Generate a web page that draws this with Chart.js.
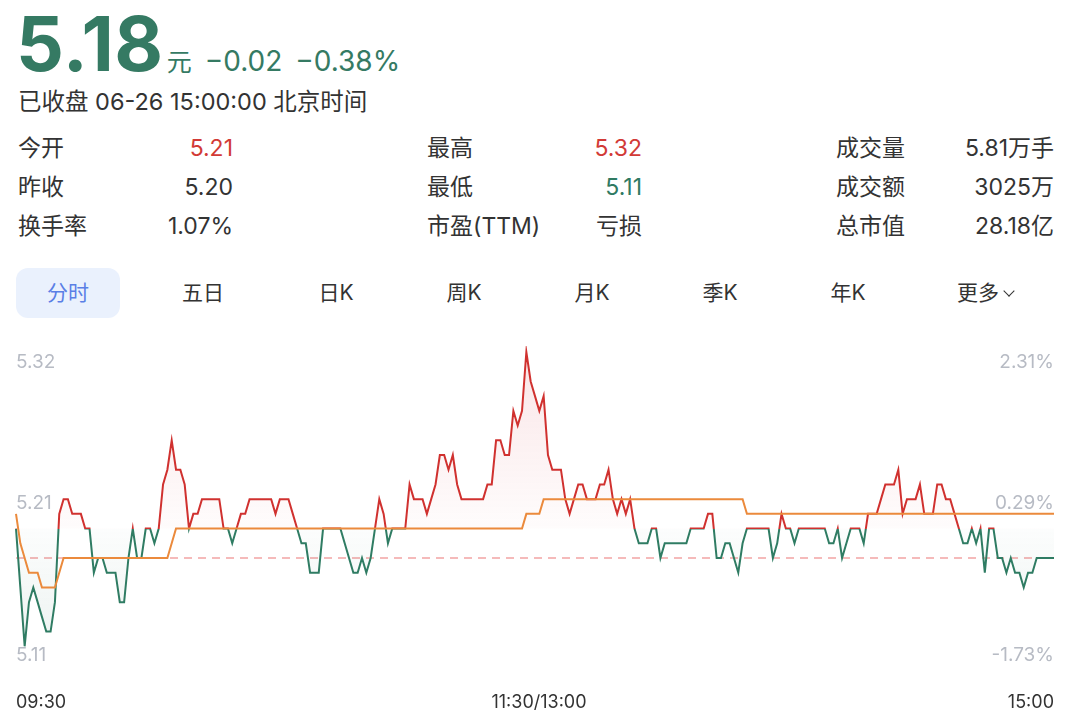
<!DOCTYPE html>
<html lang="zh-CN">
<head>
<meta charset="UTF-8">
<title>分时</title>
<script src="https://cdn.jsdelivr.net/npm/chart.js@4.4.1/dist/chart.umd.min.js"></script>
<style>
  * { margin: 0; padding: 0; box-sizing: border-box; }
  body {
    width: 1080px; height: 728px; overflow: hidden; background: #fff;
    font-family: "Inter", "Noto Sans CJK SC", sans-serif; color: #333;
    position: relative;
  }
  .abs { position: absolute; white-space: nowrap; }
  .up { color: #d23a36; }
  .down { color: #2f7a62; }
  #priceRow { left: 16px; top: 2px; display: flex; align-items: baseline; color: #357a63; }
  #priceRow .big { font-size: 75px; font-weight: 700; line-height: 84px; letter-spacing: 0.5px; }
  #priceRow .unit { font-size: 25px; margin-left: 3px; }
  #priceRow .chg { font-size: 28px; margin-left: 13px; }
  #status { left: 18px; top: 87px; font-size: 23.5px; line-height: 30px; color: #333; }
  .row { font-size: 23px; line-height: 28px; }
  .lbl { position: absolute; }
  .val { position: absolute; text-align: right; }
  #tabs .tab { position: absolute; top: 279px; font-size: 21px; line-height: 28px; transform: translateX(-50%); }
  #tabActive { left: 16px; top: 268px; width: 104px; height: 50px; border-radius: 12px; background: #eaf1fd; }
  .chev { display: inline-block; width: 8px; height: 8px; border-right: 1.5px solid #333; border-bottom: 1.5px solid #333; transform: rotate(45deg); margin-left: 6px; position: relative; top: -5px; }
  #chartBox { position: absolute; left: 0; top: 330px; width: 1080px; height: 398px; }
</style>
</head>
<body>
<div id="priceRow" class="abs">
  <span class="big">5.18</span><span class="unit">元</span><span class="chg">−0.02</span><span class="chg">−0.38%</span>
</div>
<div id="status" class="abs">已收盘 06-26 15:00:00 北京时间</div>
<div id="info"></div>
<div id="tabActive" class="abs"></div>
<div id="tabs"></div>
<div id="chartBox"><canvas id="minuteChart"></canvas></div>

<script>
// 昨收价（红绿分界）和收盘价（虚线）
const prevClose = 5.20;
const lastPrice = 5.18;

// 纵轴刻度
const yMin = 5.11;
const yMax = 5.32;
const priceTicks = ['5.32', '5.21', '5.11'];
const pctTicks = ['2.31%', '0.29%', '-1.73%'];
const timeTicks = ['09:30', '11:30/13:00', '15:00'];

// 每分钟价格（09:30 - 15:00，共 241 个点）
const prices = [
  5.20, 5.16, 5.12, 5.15, 5.16, 5.15, 5.14, 5.13, 5.13, 5.15,
  5.21, 5.22, 5.22, 5.21, 5.21, 5.21, 5.20, 5.20, 5.17, 5.18,
  5.18, 5.17, 5.17, 5.17, 5.15, 5.15, 5.18, 5.20, 5.18, 5.18,
  5.20, 5.20, 5.19, 5.20, 5.23, 5.24, 5.26, 5.24, 5.24, 5.23,
  5.20, 5.21, 5.21, 5.22, 5.22, 5.22, 5.22, 5.22, 5.20, 5.20,
  5.19, 5.20, 5.21, 5.21, 5.22, 5.22, 5.22, 5.22, 5.22, 5.22,
  5.21, 5.22, 5.22, 5.22, 5.21, 5.20, 5.19, 5.19, 5.17, 5.17,
  5.17, 5.20, 5.20, 5.20, 5.20, 5.20, 5.19, 5.18, 5.17, 5.17,
  5.18, 5.17, 5.18, 5.20, 5.22, 5.21, 5.19, 5.20, 5.20, 5.20,
  5.20, 5.23, 5.22, 5.22, 5.22, 5.21, 5.22, 5.23, 5.25, 5.25,
  5.24, 5.25, 5.23, 5.22, 5.22, 5.22, 5.22, 5.22, 5.22, 5.23,
  5.23, 5.26, 5.26, 5.25, 5.25, 5.28, 5.27, 5.28, 5.32, 5.30,
  5.29, 5.28, 5.29, 5.25, 5.24, 5.24, 5.24, 5.22, 5.21, 5.22,
  5.23, 5.23, 5.22, 5.22, 5.22, 5.23, 5.23, 5.24, 5.22, 5.21,
  5.22, 5.21, 5.22, 5.20, 5.19, 5.19, 5.19, 5.20, 5.20, 5.18,
  5.19, 5.19, 5.19, 5.19, 5.19, 5.19, 5.20, 5.20, 5.20, 5.20,
  5.21, 5.21, 5.18, 5.18, 5.19, 5.19, 5.18, 5.17, 5.19, 5.20,
  5.20, 5.20, 5.20, 5.20, 5.20, 5.18, 5.19, 5.21, 5.20, 5.20,
  5.19, 5.20, 5.20, 5.20, 5.20, 5.20, 5.20, 5.20, 5.19, 5.19,
  5.20, 5.18, 5.19, 5.20, 5.20, 5.20, 5.19, 5.21, 5.21, 5.21,
  5.22, 5.23, 5.23, 5.23, 5.24, 5.21, 5.22, 5.22, 5.22, 5.23,
  5.21, 5.21, 5.21, 5.23, 5.23, 5.22, 5.22, 5.21, 5.20, 5.19,
  5.19, 5.20, 5.19, 5.20, 5.17, 5.20, 5.20, 5.18, 5.18, 5.17,
  5.18, 5.17, 5.17, 5.16, 5.17, 5.17, 5.18, 5.18, 5.18, 5.18,
  5.18
];

// 均价线
const avgPrices = [
  5.21, 5.19, 5.18, 5.17, 5.17, 5.17, 5.16, 5.16, 5.16, 5.16,
  5.17, 5.18, 5.18, 5.18, 5.18, 5.18, 5.18, 5.18, 5.18, 5.18,
  5.18, 5.18, 5.18, 5.18, 5.18, 5.18, 5.18, 5.18, 5.18, 5.18,
  5.18, 5.18, 5.18, 5.18, 5.18, 5.18, 5.19, 5.20, 5.20, 5.20,
  5.20, 5.20, 5.20, 5.20, 5.20, 5.20, 5.20, 5.20, 5.20, 5.20,
  5.20, 5.20, 5.20, 5.20, 5.20, 5.20, 5.20, 5.20, 5.20, 5.20,
  5.20, 5.20, 5.20, 5.20, 5.20, 5.20, 5.20, 5.20, 5.20, 5.20,
  5.20, 5.20, 5.20, 5.20, 5.20, 5.20, 5.20, 5.20, 5.20, 5.20,
  5.20, 5.20, 5.20, 5.20, 5.20, 5.20, 5.20, 5.20, 5.20, 5.20,
  5.20, 5.20, 5.20, 5.20, 5.20, 5.20, 5.20, 5.20, 5.20, 5.20,
  5.20, 5.20, 5.20, 5.20, 5.20, 5.20, 5.20, 5.20, 5.20, 5.20,
  5.20, 5.20, 5.20, 5.20, 5.20, 5.20, 5.20, 5.20, 5.21, 5.21,
  5.21, 5.21, 5.22, 5.22, 5.22, 5.22, 5.22, 5.22, 5.22, 5.22,
  5.22, 5.22, 5.22, 5.22, 5.22, 5.22, 5.22, 5.22, 5.22, 5.22,
  5.22, 5.22, 5.22, 5.22, 5.22, 5.22, 5.22, 5.22, 5.22, 5.22,
  5.22, 5.22, 5.22, 5.22, 5.22, 5.22, 5.22, 5.22, 5.22, 5.22,
  5.22, 5.22, 5.22, 5.22, 5.22, 5.22, 5.22, 5.22, 5.22, 5.21,
  5.21, 5.21, 5.21, 5.21, 5.21, 5.21, 5.21, 5.21, 5.21, 5.21,
  5.21, 5.21, 5.21, 5.21, 5.21, 5.21, 5.21, 5.21, 5.21, 5.21,
  5.21, 5.21, 5.21, 5.21, 5.21, 5.21, 5.21, 5.21, 5.21, 5.21,
  5.21, 5.21, 5.21, 5.21, 5.21, 5.21, 5.21, 5.21, 5.21, 5.21,
  5.21, 5.21, 5.21, 5.21, 5.21, 5.21, 5.21, 5.21, 5.21, 5.21,
  5.21, 5.21, 5.21, 5.21, 5.21, 5.21, 5.21, 5.21, 5.21, 5.21,
  5.21, 5.21, 5.21, 5.21, 5.21, 5.21, 5.21, 5.21, 5.21, 5.21,
  5.21
];

// 行情信息
const infoLabels = [['今开', '昨收', '换手率'], ['最高', '最低', '市盈(TTM)'], ['成交量', '成交额', '总市值']];
const infoValues = [['5.21', '5.20', '1.07%'], ['5.32', '5.11', '亏损'], ['5.81万手', '3025万', '28.18亿']];
const infoClass = [['up', '', ''], ['up', 'down', ''], ['', '', '']];
const tabNames = ['分时', '五日', '日K', '周K', '月K', '季K', '年K', '更多'];

// 生成分钟标签
function buildMinuteLabels() {
  const labels = [];
  for (let i = 0; i < prices.length; i++) {
    let m = i <= 120 ? 9 * 60 + 30 + i : 13 * 60 + (i - 120);
    labels.push(String(Math.floor(m / 60)).padStart(2, '0') + ':' + String(m % 60).padStart(2, '0'));
  }
  return labels;
}

// 顶部信息区
function renderInfo() {
  const info = document.getElementById('info');
  const colLeft = [18, 427, 836];
  const colRight = [233, 642, 1054];
  const rowTop = [134, 173, 212];
  let html = '';
  for (let c = 0; c < 3; c++) {
    for (let r = 0; r < 3; r++) {
      html += `<div class="abs row lbl" style="left:${colLeft[c]}px;top:${rowTop[r]}px">${infoLabels[c][r]}</div>`;
      html += `<div class="abs row val ${infoClass[c][r]}" style="right:${1080 - colRight[c]}px;top:${rowTop[r]}px">${infoValues[c][r]}</div>`;
    }
  }
  info.innerHTML = html;

  const tabs = document.getElementById('tabs');
  const tabX = [68, 203, 336, 464, 592, 720, 848, 985];
  tabs.innerHTML = tabNames.map((t, i) => {
    const style = i === 0 ? 'color:#5a7fe6;' : '';
    const extra = i === tabNames.length - 1 ? '<span class="chev"></span>' : '';
    return `<div class="tab" style="left:${tabX[i]}px;${style}">${t}${extra}</div>`;
  }).join('');
}

// 红绿分界的渐变
function splitGradient(chart, colorAbove, colorBelow, topColor, bottomColor) {
  const area = chart.chartArea;
  if (!area) return colorAbove;
  const yBase = chart.scales.y.getPixelForValue(prevClose);
  const stop = Math.min(1, Math.max(0, (yBase - area.top) / (area.bottom - area.top)));
  const g = chart.ctx.createLinearGradient(0, area.top, 0, area.bottom);
  g.addColorStop(0, topColor || colorAbove);
  g.addColorStop(stop, colorAbove);
  g.addColorStop(stop, colorBelow);
  g.addColorStop(1, bottomColor || colorBelow);
  return g;
}

// 虚线和坐标文字
const overlayPlugin = {
  id: 'overlay',
  beforeDatasetsDraw(chart) {
    const ctx = chart.ctx;
    const area = chart.chartArea;
    const y = chart.scales.y.getPixelForValue(lastPrice);
    ctx.save();
    ctx.strokeStyle = 'rgba(238,140,140,0.8)';
    ctx.lineWidth = 1.5;
    ctx.setLineDash([8, 6]);
    ctx.beginPath();
    ctx.moveTo(area.left, y);
    ctx.lineTo(area.right, y);
    ctx.stroke();
    ctx.restore();
  },
  afterDraw(chart) {
    const ctx = chart.ctx;
    const area = chart.chartArea;
    const ys = chart.scales.y;
    const xs = chart.scales.x;
    ctx.save();
    ctx.font = '19px "Inter", "Noto Sans CJK SC", sans-serif';
    ctx.fillStyle = '#b7bbc4';
    ctx.textBaseline = 'middle';
    const tickVals = [yMax, (yMax + yMin) / 2, yMin];
    const offsets = [10, -3, -6];
    tickVals.forEach((v, i) => {
      const y = ys.getPixelForValue(v) + offsets[i];
      ctx.textAlign = 'left';
      ctx.fillText(priceTicks[i], area.left, y);
      ctx.textAlign = 'right';
      ctx.fillText(pctTicks[i], area.right, y);
    });
    ctx.font = '18px "Inter", "Noto Sans CJK SC", sans-serif';
    ctx.fillStyle = '#333';
    const ty = area.bottom + 42;
    ctx.textAlign = 'left';
    ctx.fillText(timeTicks[0], xs.getPixelForValue(0), ty);
    ctx.textAlign = 'center';
    ctx.fillText(timeTicks[1], xs.getPixelForValue(120) + 4, ty);
    ctx.textAlign = 'right';
    ctx.fillText(timeTicks[2], xs.getPixelForValue(prices.length - 1), ty);
    ctx.restore();
  }
};

function setupMinuteChart() {
  const ctx = document.getElementById('minuteChart');
  new Chart(ctx, {
    type: 'line',
    data: {
      labels: buildMinuteLabels(),
      datasets: [
        {
          label: '均价',
          data: avgPrices,
          borderColor: '#eb8a3c',
          borderWidth: 2,
          pointRadius: 0,
          fill: false,
          tension: 0,
          clip: 6,
          order: 0
        },
        {
          label: '价格',
          data: prices,
          borderColor: c => splitGradient(c.chart, '#d0312f', '#2f7c63'),
          backgroundColor: c => splitGradient(c.chart, 'rgba(215,60,70,0.015)', 'rgba(60,125,105,0.015)', 'rgba(215,60,70,0.13)', 'rgba(60,125,105,0.10)'),
          borderWidth: 2,
          pointRadius: 0,
          fill: { value: prevClose },
          tension: 0,
          clip: 6,
          order: 1
        }
      ]
    },
    options: {
      responsive: true,
      maintainAspectRatio: false,
      animation: false,
      layout: { padding: { left: 16, right: 26, top: 22, bottom: 67 } },
      plugins: { legend: { display: false }, tooltip: { enabled: false } },
      scales: {
        x: { display: false, offset: false },
        y: { display: false, min: yMin, max: yMax }
      }
    },
    plugins: [overlayPlugin]
  });
}

renderInfo();
setupMinuteChart();
</script>
</body>
</html>
